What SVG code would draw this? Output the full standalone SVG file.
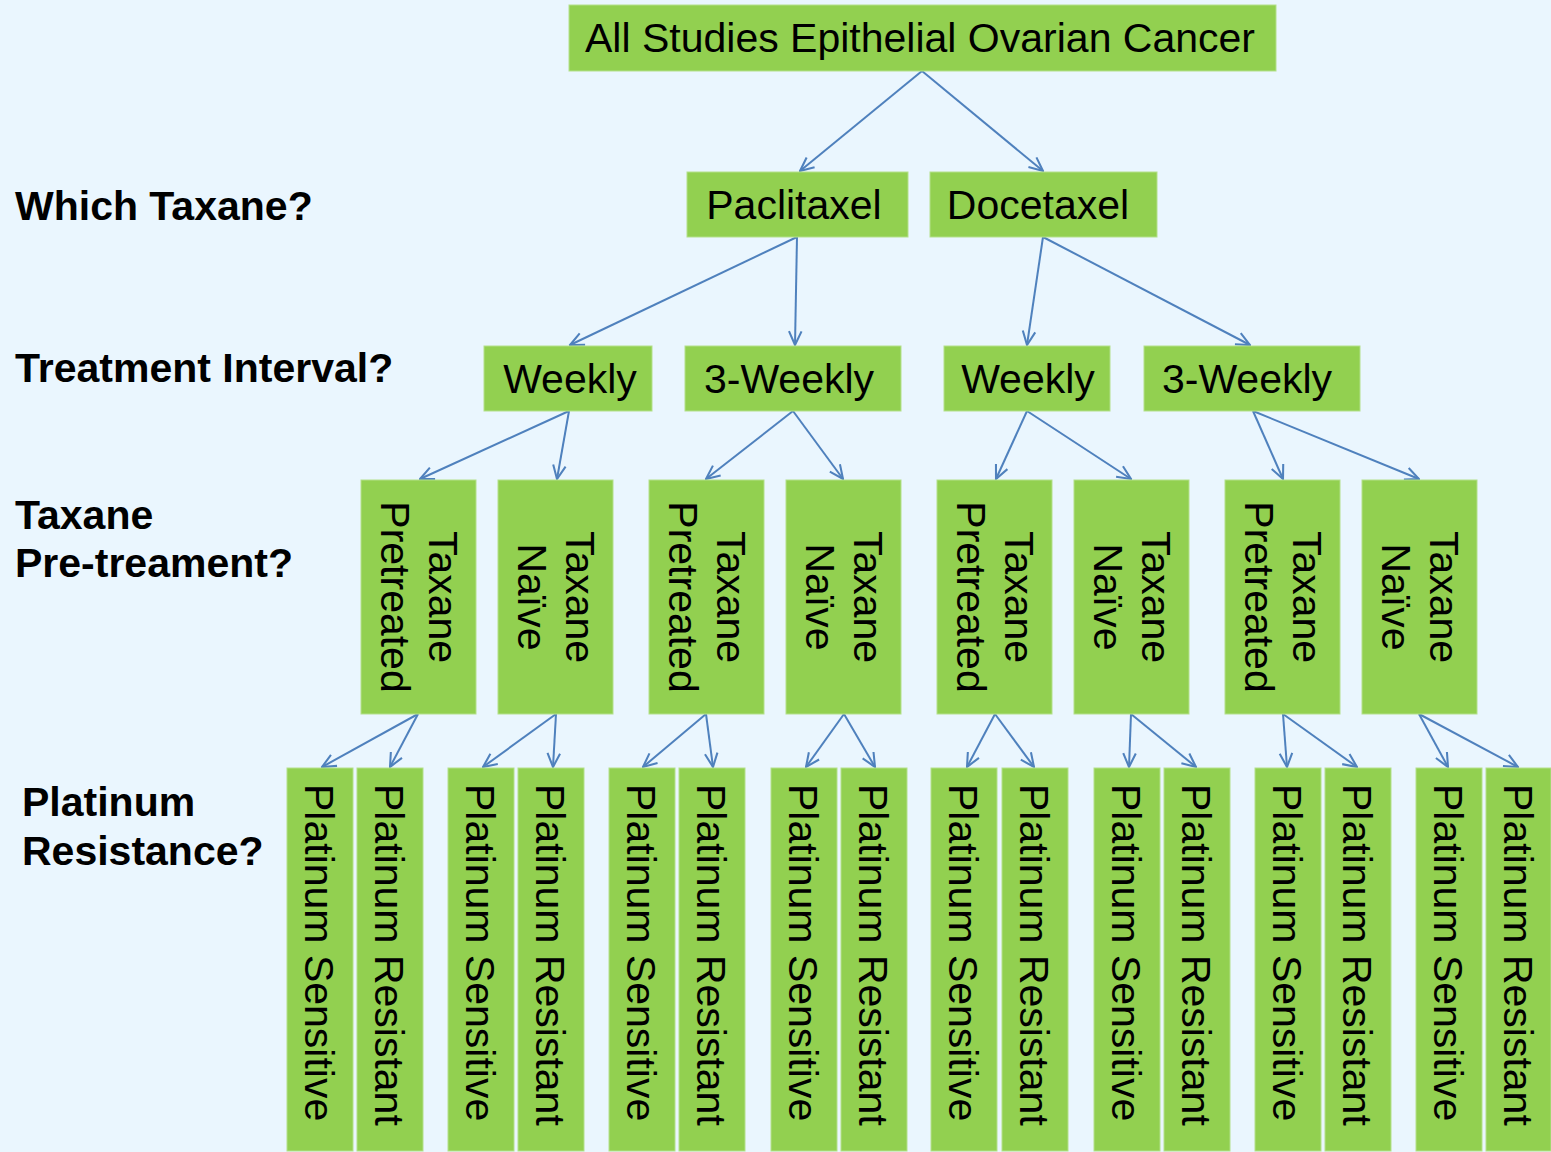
<svg xmlns="http://www.w3.org/2000/svg" width="1551" height="1152" viewBox="0 0 1551 1152">
<defs>
<style>
.bg{fill:#EAF6FE}
.n{fill:#92D050;stroke:#B3E08A;stroke-width:1}
.t{font-family:"Liberation Sans",Arial,sans-serif;font-size:41px;fill:#000}
.m{text-anchor:middle}
.r{font-family:"Liberation Sans",Arial,sans-serif;font-size:41px;fill:#000}
.lbl{font-family:"Liberation Sans",Arial,sans-serif;font-size:41px;font-weight:bold;fill:#000}
.c{stroke:#4F81BD;stroke-width:2;fill:none;marker-end:url(#ah)}
</style>
<marker id="ah" viewBox="0 0 14 14" refX="13" refY="7" markerWidth="16" markerHeight="16" markerUnits="userSpaceOnUse" orient="auto">
<path d="M1,1.5 L13,7 L1,12.5" fill="none" stroke="#4F81BD" stroke-width="1.8"/>
</marker>
</defs>
<rect class="bg" x="0" y="0" width="1551" height="1152"/>

<g id="labels">
<text class="lbl" x="15" y="220">Which Taxane?</text>
<text class="lbl" x="15" y="382">Treatment Interval?</text>
<text class="lbl" x="15" y="529">Taxane</text>
<text class="lbl" x="15" y="577">Pre-treament?</text>
<text class="lbl" x="22" y="816">Platinum</text>
<text class="lbl" x="22" y="865">Resistance?</text>
</g>

<g id="connectors">
<line class="c" x1="922" y1="71" x2="800" y2="171"/>
<line class="c" x1="922" y1="71" x2="1043" y2="171"/>
<line class="c" x1="797" y1="237" x2="570" y2="345"/>
<line class="c" x1="797" y1="237" x2="795" y2="345"/>
<line class="c" x1="1043" y1="237" x2="1027" y2="345"/>
<line class="c" x1="1043" y1="237" x2="1250" y2="345"/>
<line class="c" x1="569" y1="411" x2="420" y2="479"/>
<line class="c" x1="569" y1="411" x2="557" y2="479"/>
<line class="c" x1="793" y1="411" x2="706" y2="479"/>
<line class="c" x1="793" y1="411" x2="843" y2="479"/>
<line class="c" x1="1027" y1="411" x2="996" y2="479"/>
<line class="c" x1="1027" y1="411" x2="1131" y2="479"/>
<line class="c" x1="1253" y1="411" x2="1283" y2="479"/>
<line class="c" x1="1253" y1="411" x2="1419" y2="479"/>
<line class="c" x1="418" y1="714" x2="322" y2="767"/>
<line class="c" x1="418" y1="714" x2="390" y2="767"/>
<line class="c" x1="556" y1="714" x2="483" y2="767"/>
<line class="c" x1="556" y1="714" x2="553" y2="767"/>
<line class="c" x1="706" y1="714" x2="643" y2="767"/>
<line class="c" x1="706" y1="714" x2="713" y2="767"/>
<line class="c" x1="844" y1="714" x2="806" y2="767"/>
<line class="c" x1="844" y1="714" x2="875" y2="767"/>
<line class="c" x1="995" y1="714" x2="967" y2="767"/>
<line class="c" x1="995" y1="714" x2="1034" y2="767"/>
<line class="c" x1="1131" y1="714" x2="1129" y2="767"/>
<line class="c" x1="1131" y1="714" x2="1196" y2="767"/>
<line class="c" x1="1283" y1="714" x2="1287" y2="767"/>
<line class="c" x1="1283" y1="714" x2="1357" y2="767"/>
<line class="c" x1="1419" y1="714" x2="1448" y2="767"/>
<line class="c" x1="1419" y1="714" x2="1518" y2="767"/>
</g>

<g id="n-root"><rect class="n" x="569" y="5" width="707" height="66"/><text class="t m" x="920" y="52">All Studies Epithelial Ovarian Cancer</text></g>
<g id="n-paclitaxel"><rect class="n" x="687" y="172" width="221" height="65"/><text class="t m" x="794" y="219">Paclitaxel</text></g>
<g id="n-docetaxel"><rect class="n" x="930" y="172" width="227" height="65"/><text class="t m" x="1038" y="219">Docetaxel</text></g>
<g id="n-p-weekly"><rect class="n" x="484" y="346" width="168" height="65"/><text class="t m" x="570" y="393">Weekly</text></g>
<g id="n-p-3weekly"><rect class="n" x="685" y="346" width="216" height="65"/><text class="t m" x="789" y="393">3-Weekly</text></g>
<g id="n-d-weekly"><rect class="n" x="944" y="346" width="166" height="65"/><text class="t m" x="1028" y="393">Weekly</text></g>
<g id="n-d-3weekly"><rect class="n" x="1144" y="346" width="216" height="65"/><text class="t m" x="1247" y="393">3-Weekly</text></g>

<g id="n-t1"><rect class="n" x="361" y="480" width="115" height="234"/><text class="t m" transform="translate(428.5,597) rotate(90)">Taxane</text><text class="t m" transform="translate(380.5,597) rotate(90)">Pretreated</text></g>
<g id="n-t2"><rect class="n" x="498" y="480" width="115" height="234"/><text class="t m" transform="translate(565.5,597) rotate(90)">Taxane</text><text class="t m" transform="translate(517.5,597) rotate(90)">Naïve</text></g>
<g id="n-t3"><rect class="n" x="649" y="480" width="115" height="234"/><text class="t m" transform="translate(716.5,597) rotate(90)">Taxane</text><text class="t m" transform="translate(668.5,597) rotate(90)">Pretreated</text></g>
<g id="n-t4"><rect class="n" x="786" y="480" width="115" height="234"/><text class="t m" transform="translate(853.5,597) rotate(90)">Taxane</text><text class="t m" transform="translate(805.5,597) rotate(90)">Naïve</text></g>
<g id="n-t5"><rect class="n" x="937" y="480" width="115" height="234"/><text class="t m" transform="translate(1004.5,597) rotate(90)">Taxane</text><text class="t m" transform="translate(956.5,597) rotate(90)">Pretreated</text></g>
<g id="n-t6"><rect class="n" x="1074" y="480" width="115" height="234"/><text class="t m" transform="translate(1141.5,597) rotate(90)">Taxane</text><text class="t m" transform="translate(1093.5,597) rotate(90)">Naïve</text></g>
<g id="n-t7"><rect class="n" x="1225" y="480" width="115" height="234"/><text class="t m" transform="translate(1292.5,597) rotate(90)">Taxane</text><text class="t m" transform="translate(1244.5,597) rotate(90)">Pretreated</text></g>
<g id="n-t8"><rect class="n" x="1362" y="480" width="115" height="234"/><text class="t m" transform="translate(1429.5,597) rotate(90)">Taxane</text><text class="t m" transform="translate(1381.5,597) rotate(90)">Naïve</text></g>

<g id="n-p1"><rect class="n" x="287" y="768" width="66" height="383"/><text class="r" transform="translate(305,784) rotate(90)">Platinum Sensitive</text></g>
<g id="n-p2"><rect class="n" x="357" y="768" width="66" height="383"/><text class="r" transform="translate(375,784) rotate(90)">Platinum Resistant</text></g>
<g id="n-p3"><rect class="n" x="448" y="768" width="66" height="383"/><text class="r" transform="translate(466,784) rotate(90)">Platinum Sensitive</text></g>
<g id="n-p4"><rect class="n" x="518" y="768" width="66" height="383"/><text class="r" transform="translate(536,784) rotate(90)">Platinum Resistant</text></g>
<g id="n-p5"><rect class="n" x="609" y="768" width="66" height="383"/><text class="r" transform="translate(627,784) rotate(90)">Platinum Sensitive</text></g>
<g id="n-p6"><rect class="n" x="679" y="768" width="66" height="383"/><text class="r" transform="translate(697,784) rotate(90)">Platinum Resistant</text></g>
<g id="n-p7"><rect class="n" x="771" y="768" width="66" height="383"/><text class="r" transform="translate(789,784) rotate(90)">Platinum Sensitive</text></g>
<g id="n-p8"><rect class="n" x="841" y="768" width="66" height="383"/><text class="r" transform="translate(859,784) rotate(90)">Platinum Resistant</text></g>
<g id="n-p9"><rect class="n" x="931" y="768" width="66" height="383"/><text class="r" transform="translate(949,784) rotate(90)">Platinum Sensitive</text></g>
<g id="n-p10"><rect class="n" x="1002" y="768" width="66" height="383"/><text class="r" transform="translate(1020,784) rotate(90)">Platinum Resistant</text></g>
<g id="n-p11"><rect class="n" x="1094" y="768" width="66" height="383"/><text class="r" transform="translate(1112,784) rotate(90)">Platinum Sensitive</text></g>
<g id="n-p12"><rect class="n" x="1164" y="768" width="66" height="383"/><text class="r" transform="translate(1182,784) rotate(90)">Platinum Resistant</text></g>
<g id="n-p13"><rect class="n" x="1255" y="768" width="66" height="383"/><text class="r" transform="translate(1273,784) rotate(90)">Platinum Sensitive</text></g>
<g id="n-p14"><rect class="n" x="1325" y="768" width="66" height="383"/><text class="r" transform="translate(1343,784) rotate(90)">Platinum Resistant</text></g>
<g id="n-p15"><rect class="n" x="1416" y="768" width="66" height="383"/><text class="r" transform="translate(1434,784) rotate(90)">Platinum Sensitive</text></g>
<g id="n-p16"><rect class="n" x="1486" y="768" width="65" height="383"/><text class="r" transform="translate(1504,784) rotate(90)">Platinum Resistant</text></g>
</svg>
